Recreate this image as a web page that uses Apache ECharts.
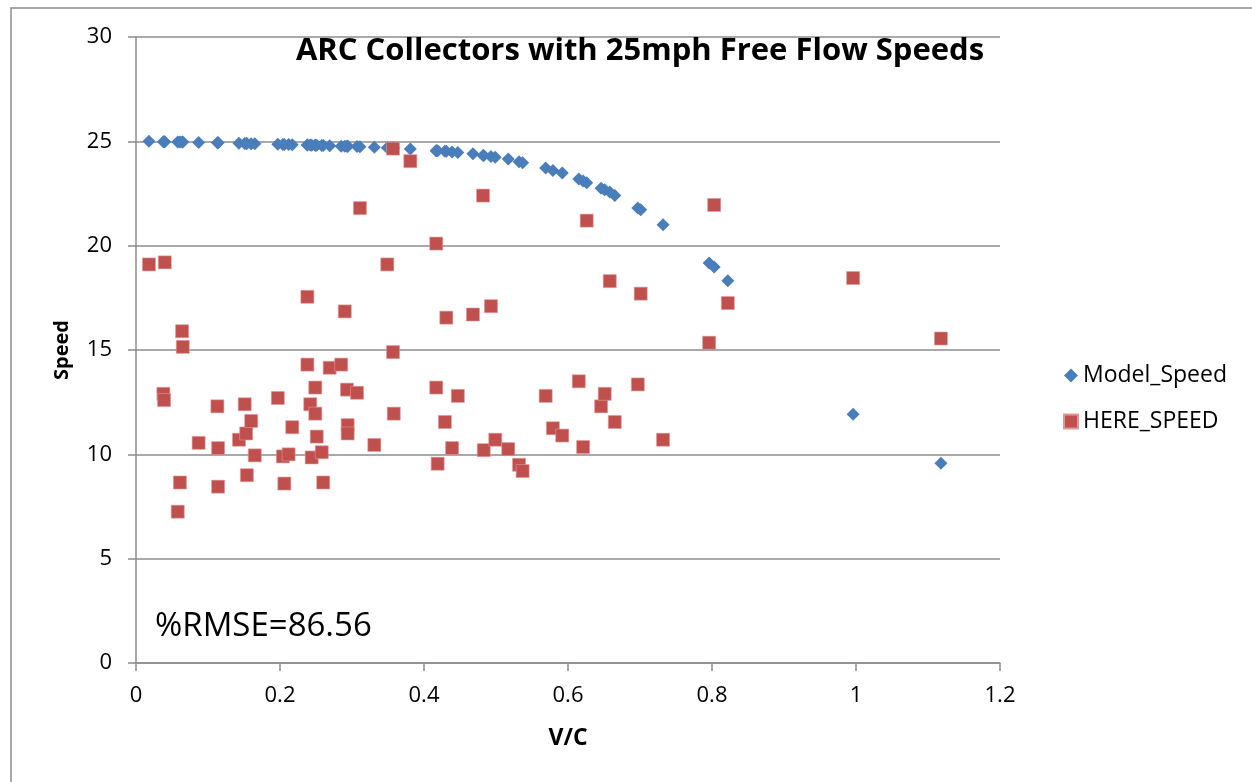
<!DOCTYPE html>
<html><head><meta charset="utf-8">
<script src="https://cdn.jsdelivr.net/npm/echarts@6/dist/echarts.min.js"></script>
<style>html,body{margin:0;padding:0;background:#fff}#c{width:1252px;height:782px}</style>
</head><body><div id="c"></div>
<script>
const vc = [0.018,0.038,0.039,0.040,0.058,0.061,0.064,0.065,0.087,0.113,0.114,0.114,0.143,0.151,0.153,0.154,0.160,0.165,0.197,0.204,0.206,0.212,0.217,0.238,0.238,0.242,0.244,0.249,0.249,0.251,0.258,0.260,0.269,0.285,0.290,0.293,0.294,0.294,0.307,0.311,0.331,0.349,0.357,0.357,0.358,0.381,0.417,0.417,0.419,0.429,0.431,0.439,0.447,0.468,0.482,0.483,0.493,0.499,0.517,0.532,0.537,0.569,0.579,0.592,0.615,0.621,0.626,0.646,0.651,0.658,0.665,0.697,0.701,0.732,0.796,0.803,0.822,0.996,1.118];
const modelSpeed = [25.0,24.98,24.98,24.98,24.97,24.97,24.97,24.97,24.95,24.93,24.93,24.93,24.91,24.9,24.9,24.9,24.89,24.89,24.86,24.85,24.85,24.85,24.84,24.82,24.82,24.82,24.81,24.81,24.81,24.81,24.80,24.80,24.79,24.77,24.77,24.76,24.76,24.76,24.75,24.74,24.72,24.69,24.68,24.68,24.68,24.63,24.55,24.55,24.55,24.52,24.52,24.49,24.47,24.40,24.32,24.32,24.27,24.24,24.15,24.02,23.97,23.72,23.6,23.48,23.2,23.1,23.02,22.75,22.68,22.57,22.4,21.8,21.72,21.0,19.17,18.98,18.32,11.92,9.57];
const hereSpeed = [19.1,12.9,12.6,19.2,7.25,8.65,15.9,15.15,10.55,12.3,10.3,8.45,10.7,12.4,11.0,9.0,11.6,9.95,12.7,9.9,8.6,10.0,11.3,17.55,14.3,12.4,9.85,13.2,11.95,10.85,10.1,8.65,14.15,14.3,16.85,13.1,11.4,11.0,12.95,21.8,10.45,19.1,14.9,24.65,11.95,24.05,20.1,13.2,9.55,11.55,16.55,10.3,12.8,16.7,22.4,10.2,17.1,10.7,10.25,9.5,9.2,12.8,11.25,10.9,13.5,10.35,21.2,12.3,12.9,18.3,11.55,13.35,17.7,10.7,15.35,21.95,17.25,18.45,15.55];
const xTicks = [0,0.2,0.4,0.6,0.8,1,1.2];
const yTicks = [0,5,10,15,20,25,30];
const seriesNames = ['Model_Speed','HERE_SPEED'];

const FONT = 'Open Sans, Liberation Sans, sans-serif';
const chart = echarts.init(document.getElementById('c'), null, {renderer:'canvas'});
const gridColor = '#8c8c8c';
chart.setOption({
  animation:false,
  backgroundColor:'#fff',
  title:{text:'ARC Collectors with 25mph Free Flow Speeds', left:635, top:31, textAlign:'center',
    textStyle:{fontFamily:FONT, fontWeight:'bold', fontSize:31, color:'#000'}},
  legend:{orient:'vertical', left:1058, top:359, itemGap:23, itemWidth:14, itemHeight:14,
    textStyle:{fontFamily:FONT, fontSize:23, color:'#000'},
    data:[{name:seriesNames[0], icon:'diamond'},{name:seriesNames[1], icon:'rect'}]},
  grid:{left:136, right:252, top:37, bottom:119},
  xAxis:{type:'value', min:0, max:1.2, interval:0.2,
    name:'V/C', nameLocation:'middle', nameGap:64,
    nameTextStyle:{fontFamily:FONT, fontWeight:'bold', fontSize:23, color:'#000'},
    axisLine:{show:true, lineStyle:{color:gridColor, width:1.5}},
    axisTick:{show:true, length:8, lineStyle:{color:gridColor, width:1.5}},
    axisLabel:{fontFamily:FONT, fontSize:22, color:'#000', margin:22,
      formatter:v=>{const t=xTicks.find(k=>Math.abs(k-v)<1e-9); return t===undefined?'':String(t);}},
    splitLine:{show:false}},
  yAxis:{type:'value', min:0, max:30, interval:5,
    name:'Speed', nameLocation:'middle', nameGap:64, nameRotate:90,
    nameTextStyle:{fontFamily:FONT, fontWeight:'bold', fontSize:20, color:'#000'},
    axisLine:{show:true, lineStyle:{color:gridColor, width:1.5}},
    axisTick:{show:true, length:8, lineStyle:{color:gridColor, width:1.5}},
    axisLabel:{fontFamily:FONT, fontSize:22, color:'#000', margin:24,
      formatter:v=>{const t=yTicks.find(k=>Math.abs(k-v)<1e-9); return t===undefined?'':String(t);}},
    splitLine:{show:true, lineStyle:{color:gridColor, width:1.5}}},
  graphic:[
    {type:'rect', shape:{x:11, y:8, width:1300, height:820}, style:{fill:'none', stroke:'#8c8c8c', lineWidth:1.5}, silent:true, z:-1},
    {type:'text', left:155, top:610, style:{text:'%RMSE=86.56', font:'33px '+FONT, fill:'#000'}}
  ],
  series:[
    {name:seriesNames[0], type:'scatter', symbol:'diamond', symbolSize:13,
      itemStyle:{color:'#4a7ebb', opacity:1}, data:vc.map((x,i)=>[x,modelSpeed[i]]), z:2},
    {name:seriesNames[1], type:'scatter', symbol:'rect', symbolSize:13,
      itemStyle:{color:'#c0504d', borderColor:'#d99', borderWidth:0.6, opacity:1}, data:vc.map((x,i)=>[x,hereSpeed[i]]), z:3}
  ]
});
</script></body></html>
